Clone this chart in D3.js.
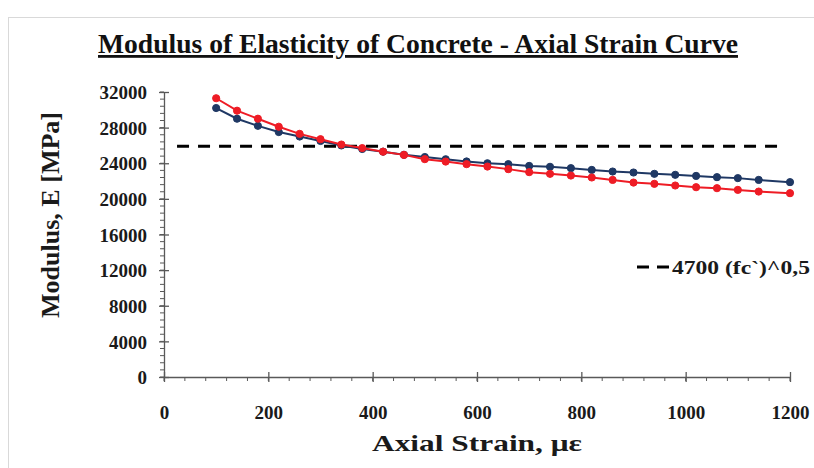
<!DOCTYPE html>
<html><head><meta charset="utf-8">
<script src="https://cdn.jsdelivr.net/npm/d3@7"></script>
<style>body{margin:0;background:#fff}svg{display:block}</style>
</head><body>
<script>
const strain = [100,140,180,220,260,300,340,380,420,460,500,540,580,620,660,700,740,780,820,860,900,940,980,1020,1060,1100,1140,1200];
const seriesBlue = [30200,29000,28200,27500,27000,26500,26000,25600,25300,24950,24700,24450,24200,24000,23900,23700,23600,23450,23250,23070,22960,22810,22700,22580,22440,22330,22130,21880];
const seriesRed = [31300,29900,29000,28100,27300,26700,26100,25700,25300,24940,24460,24190,23900,23630,23340,23000,22810,22620,22400,22130,21830,21690,21500,21310,21200,21010,20820,20640];
const codeValue = 25900;
const codeRange = [25, 1180];
const xTicks = [0,200,400,600,800,1000,1200];
const yTicks = [0,4000,8000,12000,16000,20000,24000,28000,32000];
const titleText = "Modulus of Elasticity of Concrete - Axial Strain Curve";
const xTitle = "Axial Strain, με";
const yTitle = "Modulus, E [MPa]";
const legendText = "4700 (fc`)^0,5";

const W = 814, H = 468;
const svg = d3.select("body").append("svg").attr("width", W).attr("height", H);
const font = "'Liberation Serif','Times New Roman',serif";

svg.append("rect").attr("x", 8.5).attr("y", 17.5).attr("width", W).attr("height", H)
  .attr("fill", "#fff").attr("stroke", "#d9d9d9");

const x = d3.scaleLinear().domain([0, 1200]).range([164, 790]);
const y = d3.scaleLinear().domain([0, 32000]).range([377, 92]);

// minor ticks
const xMinor = d3.range(0, 1201, 40);
const yMinor = d3.range(0, 32001, 800);
const g = svg.append("g");
g.selectAll(".xm").data(xMinor).join("line")
  .attr("x1", d => x(d)).attr("x2", d => x(d)).attr("y1", 377).attr("y2", 381)
  .attr("stroke", "#595959").attr("stroke-width", 1);
g.selectAll(".ym").data(yMinor).join("line")
  .attr("x1", 160).attr("x2", 164).attr("y1", d => y(d)).attr("y2", d => y(d))
  .attr("stroke", "#595959").attr("stroke-width", 1);

// axes
const xAxis = d3.axisBottom(x).tickValues(xTicks).tickSize(0).tickPadding(0).tickFormat(d3.format("d"));
const yAxis = d3.axisLeft(y).tickValues(yTicks).tickSize(0).tickFormat(d3.format("d"));
const gx = svg.append("g").attr("transform", "translate(0,377)").call(xAxis);
const gy = svg.append("g").attr("transform", "translate(164,0)").call(yAxis);
[gx, gy].forEach(a => { a.select(".domain").attr("stroke", "#595959").attr("stroke-width", 1.3); });
gx.selectAll(".tick line").remove();
gy.selectAll(".tick line").remove();
gx.selectAll(".tick").append("line").attr("y1", -5).attr("y2", 5).attr("stroke", "#595959").attr("stroke-width", 1.3);
gy.selectAll(".tick").append("line").attr("x1", -5).attr("x2", 5).attr("stroke", "#595959").attr("stroke-width", 1.3);
gx.selectAll(".tick text").attr("y", 42).attr("dy", 0)
  .attr("font-family", font).attr("font-weight", "bold").attr("font-size", 19).attr("fill", "#1a1a1a");
gy.selectAll(".tick text").attr("x", -17).attr("dy", "0.35em")
  .attr("font-family", font).attr("font-weight", "bold").attr("font-size", 19).attr("fill", "#1a1a1a");

// code line
svg.append("line").attr("x1", x(codeRange[0])).attr("x2", x(codeRange[1]))
  .attr("y1", y(codeValue)).attr("y2", y(codeValue))
  .attr("stroke", "#000").attr("stroke-width", 3).attr("stroke-dasharray", "12,9");

const line = d3.line().x(d => x(d[0])).y(d => y(d[1]));
function drawSeries(vals, color) {
  const pts = strain.map((s, i) => [s, vals[i]]);
  svg.append("path").datum(pts).attr("d", line).attr("fill", "none")
    .attr("stroke", color).attr("stroke-width", 2);
  svg.append("g").selectAll("circle").data(pts).join("circle")
    .attr("cx", d => x(d[0])).attr("cy", d => y(d[1])).attr("r", 3.6)
    .attr("fill", color).attr("stroke", color).attr("stroke-width", 1);
}
drawSeries(seriesBlue, "#1f3864");
drawSeries(seriesRed, "#ee1c25");

// title
svg.append("text").attr("x", 418).attr("y", 53).attr("text-anchor", "middle")
  .attr("font-family", font).attr("font-weight", "bold").attr("font-size", 28)
  .attr("textLength", 640).attr("lengthAdjust", "spacingAndGlyphs")
  .attr("fill", "#111").attr("text-decoration", "underline").text(titleText);

svg.append("text").attr("x", 477).attr("y", 451).attr("text-anchor", "middle")
  .attr("font-family", font).attr("font-weight", "bold").attr("font-size", 24)
  .attr("textLength", 210).attr("lengthAdjust", "spacingAndGlyphs")
  .attr("fill", "#1a1a1a").text(xTitle);
svg.append("text").attr("transform", "translate(59,215) rotate(-90)").attr("text-anchor", "middle")
  .attr("font-family", font).attr("font-weight", "bold").attr("font-size", 25)
  .attr("textLength", 206).attr("lengthAdjust", "spacingAndGlyphs")
  .attr("fill", "#1a1a1a").text(yTitle);

// legend
svg.append("line").attr("x1", 637).attr("x2", 669).attr("y1", 267).attr("y2", 267)
  .attr("stroke", "#000").attr("stroke-width", 3).attr("stroke-dasharray", "12,8");
svg.append("text").attr("x", 672).attr("y", 274).attr("font-family", font).attr("font-weight", "bold")
  .attr("font-size", 19).attr("textLength", 138).attr("lengthAdjust", "spacingAndGlyphs")
  .attr("fill", "#1a1a1a").text(legendText);
</script>
</body></html>
